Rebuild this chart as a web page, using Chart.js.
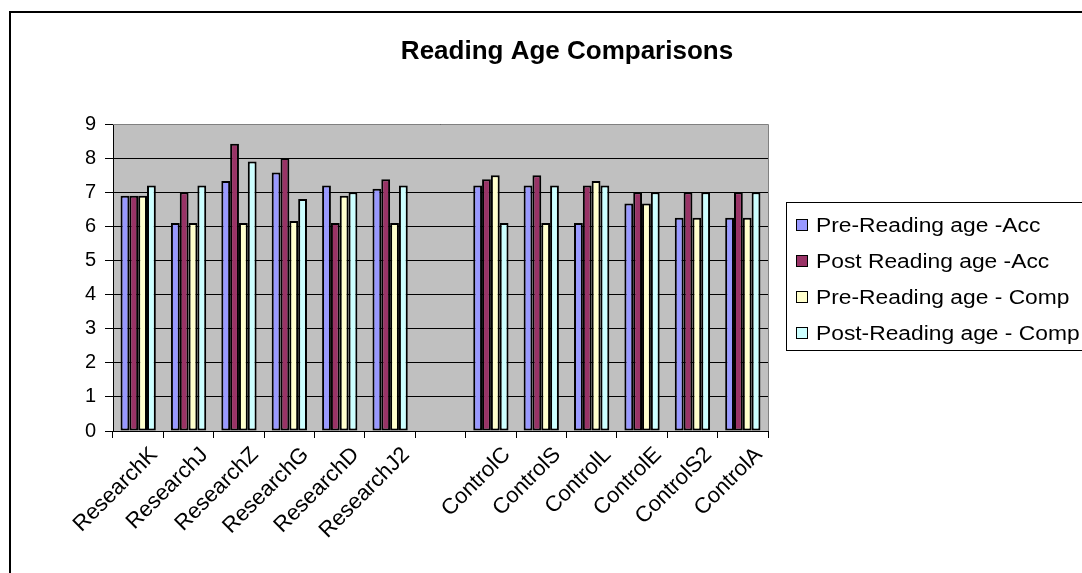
<!DOCTYPE html>
<html>
<head>
<meta charset="utf-8">
<script src="https://cdn.jsdelivr.net/npm/chart.js@4/dist/chart.umd.min.js"></script>
<style>
  html, body { margin: 0; padding: 0; background: #fff; }
  #wrap { width: 1082px; height: 573px; }
</style>
</head>
<body>
<div id="wrap"><canvas id="c" width="1082" height="573"></canvas></div>
<script>
// Pupils (blank slot separates the research group from the control group)
const categories = ['ResearchK', 'ResearchJ', 'ResearchZ', 'ResearchG', 'ResearchD', 'ResearchJ2', '',
                    'ControlC', 'ControlS', 'ControlL', 'ControlE', 'ControlS2', 'ControlA'];

const seriesNames = ['Pre-Reading age -Acc', 'Post Reading age -Acc', 'Pre-Reading age - Comp', 'Post-Reading age - Comp'];

const preReadingAcc   = [6.9, 6.1, 7.33, 7.58, 7.2, 7.1,  null, 7.2,  7.2, 6.1,  6.67, 6.25, 6.25];
const postReadingAcc  = [6.9, 7.0, 8.42, 8.0,  6.1, 7.38, null, 7.38, 7.5, 7.2,  7.0,  7.0,  7.0];
const preReadingComp  = [6.9, 6.1, 6.1,  6.16, 6.9, 6.1,  null, 7.5,  6.1, 7.33, 6.67, 6.25, 6.25];
const postReadingComp = [7.2, 7.2, 7.9,  6.8,  7.0, 7.2,  null, 6.1,  7.2, 7.2,  7.0,  7.0,  7.0];

const yMin = 0, yMax = 9, yStep = 1;

const seriesColors = ['#9999FF', '#993366', '#FFFFCC', '#CCFFFF'];
const chartTitle = 'Reading Age Comparisons';

const FONT = '"Liberation Sans", Arial, Helvetica, sans-serif';

// Plot background, plot border and the outer frame
const framePlugin = {
  id: 'frame',
  beforeDraw(chart) {
    const { ctx, chartArea: a } = chart;
    ctx.save();
    ctx.fillStyle = '#ffffff';
    ctx.fillRect(0, 0, chart.width, chart.height);
    ctx.fillStyle = '#C0C0C0';
    ctx.fillRect(a.left, a.top, a.right - a.left, a.bottom - a.top);
    ctx.restore();
  },
  afterDraw(chart) {
    const { ctx, chartArea: a } = chart;
    ctx.save();
    ctx.strokeStyle = '#808080';
    ctx.lineWidth = 1;
    ctx.beginPath();
    ctx.moveTo(a.left, a.top + 0.5);
    ctx.lineTo(a.right + 0.5, a.top + 0.5);
    ctx.lineTo(a.right + 0.5, a.bottom);
    ctx.stroke();
    // chart outer frame
    ctx.strokeStyle = '#000';
    ctx.lineWidth = 2;
    ctx.strokeRect(10, 12, 1200, 700);
    ctx.restore();
  }
};

// Title text
const titlePlugin = {
  id: 'titleText',
  afterDraw(chart) {
    const { ctx } = chart;
    ctx.save();
    ctx.font = 'bold 26px ' + FONT;
    ctx.fillStyle = '#000';
    ctx.textAlign = 'center';
    ctx.textBaseline = 'middle';
    ctx.fillText(chartTitle, 567, 52);
    ctx.restore();
  }
};

// Boxed legend to the right of the plot
const legendPlugin = {
  id: 'boxLegend',
  afterDraw(chart) {
    const { ctx } = chart;
    const left = 786, top = 202, bottom = 350, rowGap = 36.2, firstRow = 224.5;
    ctx.save();
    ctx.fillStyle = '#fff';
    ctx.fillRect(left, top, 400, bottom - top);
    ctx.strokeStyle = '#000';
    ctx.lineWidth = 1;
    ctx.strokeRect(left + 0.5, top + 0.5, 400, bottom - top);
    ctx.font = '20px ' + FONT;
    ctx.textBaseline = 'middle';
    ctx.textAlign = 'left';
    chart.data.datasets.forEach((ds, i) => {
      const y = Math.round(firstRow + i * rowGap);
      ctx.fillStyle = ds.backgroundColor;
      ctx.fillRect(797, y - 5, 10, 10);
      ctx.strokeStyle = '#000';
      ctx.lineWidth = 1;
      ctx.strokeRect(796.5, y - 5.5, 11, 11);
      ctx.fillStyle = '#000';
      ctx.save();
      ctx.translate(816, y + 1);
      ctx.scale(1.14, 1);
      ctx.fillText(ds.label, 0, 0);
      ctx.restore();
    });
    ctx.restore();
  }
};

const seriesData = [preReadingAcc, postReadingAcc, preReadingComp, postReadingComp];

new Chart(document.getElementById('c'), {
  type: 'bar',
  data: {
    labels: categories,
    datasets: seriesData.map((vals, i) => ({
      label: seriesNames[i],
      data: vals,
      backgroundColor: seriesColors[i],
      borderColor: '#000',
      borderWidth: 2,
      borderSkipped: false,
      categoryPercentage: 0.7,
      barPercentage: 1.0
    }))
  },
  options: {
    responsive: false,
    animation: false,
    devicePixelRatio: 1,
    layout: { padding: { left: 0, right: 314, top: 124, bottom: 0 } },
    plugins: {
      legend: { display: false },
      title: { display: false },
      tooltip: { enabled: false }
    },
    scales: {
      x: {
        afterFit(scale) { scale.height = 142; },
        grid: {
          offset: true,
          drawOnChartArea: false,
          drawTicks: true,
          tickLength: 7,
          tickColor: '#000',
          color: '#000'
        },
        border: { display: true, color: '#000', width: 1 },
        ticks: {
          autoSkip: false,
          maxRotation: 45,
          minRotation: 45,
          padding: 4,
          labelOffset: 16,
          color: '#000',
          font: { family: FONT, size: 22 }
        }
      },
      y: {
        min: yMin,
        max: yMax,
        afterFit(scale) { scale.width = 113; },
        grid: {
          color: '#000',
          lineWidth: 1,
          drawTicks: true,
          tickLength: 8,
          tickColor: '#000'
        },
        border: { display: true, color: '#000', width: 1 },
        ticks: {
          stepSize: yStep,
          padding: 9,
          color: '#000',
          font: { family: FONT, size: 20 }
        }
      }
    }
  },
  plugins: [framePlugin, titlePlugin, legendPlugin]
});
</script>
</body>
</html>
